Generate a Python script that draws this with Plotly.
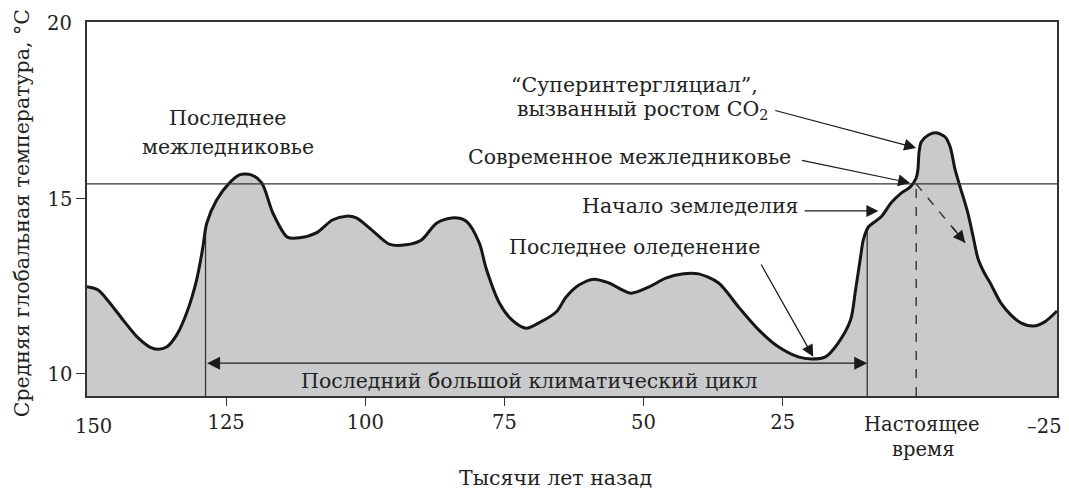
import numpy as np
import plotly.graph_objects as go

# ---------------- data ----------------
years = [150, 148.0, 145.9, 143.5, 141.0, 138.7, 137.3, 135.7, 133.9, 132.1, 130.3, 129.2,
         128.5, 126.7, 124.4, 122.6, 120.5, 118.6, 116.6, 114.0, 111.8, 108.8, 105.9, 103.4,
         101.6, 98.8, 95.7, 92.7, 89.9, 87.2, 84.4, 81.9, 79.5, 78.3, 75.9, 73.6, 71.1, 68.8,
         65.7, 63.9, 61.6, 58.9, 56.2, 52.3, 49.0, 46.0, 43.1, 40.1, 36.5, 32.9, 29.3, 25.7,
         22.2, 19.8, 17.3, 15.0, 12.8, 11.9, 11.0, 10.5, 9.6, 7.3, 5.5, 3.7, 2.1, 1.0, 0.7,
         0.5, 0.1, -1.2, -2.6, -4.2, -5.1, -6.0, -6.9, -8.2, -9.2, -10.1, -11.2, -12.3, -14.2,
         -16.0, -17.8, -20.0, -22.1, -24.3]
temps = [12.49, 12.40, 12.03, 11.54, 11.06, 10.77, 10.71, 10.77, 11.11, 11.74, 12.69, 13.60,
         14.30, 14.97, 15.46, 15.69, 15.69, 15.46, 14.60, 13.91, 13.89, 14.03, 14.40, 14.51,
         14.46, 14.11, 13.71, 13.69, 13.83, 14.31, 14.46, 14.37, 13.74, 13.03, 12.03, 11.54,
         11.31, 11.46, 11.77, 12.20, 12.54, 12.71, 12.60, 12.31, 12.49, 12.74, 12.86, 12.86,
         12.60, 11.91, 11.26, 10.77, 10.49, 10.43, 10.49, 10.89, 11.54, 12.40, 13.34, 13.83,
         14.20, 14.49, 14.89, 15.17, 15.34, 15.60, 15.83, 16.31, 16.63, 16.83, 16.89, 16.77,
         16.49, 15.83, 15.34, 14.65, 13.95, 13.30, 12.90, 12.60, 12.03, 11.69, 11.46, 11.37,
         11.49, 11.80]

x_tick_vals = [125, 100, 75, 50, 25]
x_tick_text = ["125", "100", "75", "50", "25"]
y_tick_vals = [15, 10]
y_tick_text = ["15", "10"]

cycle_start = 128.7        # start of the last big climatic cycle
holocene_start = 9.8       # start of present interglacial
present_mark = 1.0         # "today" marker (dashed line)
reference_temp = 15.43     # horizontal reference level
cycle_arrow_temp = 10.31   # level of the double arrow
dashed_tip = (-7.8, 13.75)  # end of the dashed projection arrow

X_RANGE = [150, -24.3]
Y_RANGE = [9.371, 20.057]
FONT = "DejaVu Serif"
TXT = "#222222"
LINE = "#333333"
FILL = "#c9cacc"
FS = 20.5
TICK_FS = 19.5

y_bottom = Y_RANGE[0]

fig = go.Figure()

# filled area
fig.add_trace(go.Scatter(x=years, y=temps, mode="lines", fill="tozeroy",
                         fillcolor=FILL, line=dict(color="rgba(0,0,0,0)", width=0,
                                                   shape="spline", smoothing=0.8),
                         hoverinfo="skip", showlegend=False))

# thin vertical markers from bottom to curve
for xv in (cycle_start, holocene_start):
    yv = float(np.interp(-xv, -np.array(years), np.array(temps)))
    fig.add_trace(go.Scatter(x=[xv, xv], y=[y_bottom, yv], mode="lines",
                             line=dict(color=LINE, width=1.3), hoverinfo="skip",
                             showlegend=False))

# dashed vertical at present
fig.add_trace(go.Scatter(x=[present_mark, present_mark], y=[y_bottom, reference_temp],
                         mode="lines", line=dict(color=LINE, width=1.4, dash="dash"),
                         hoverinfo="skip", showlegend=False))
# dashed diagonal projection
fig.add_trace(go.Scatter(x=[present_mark, dashed_tip[0]], y=[reference_temp, dashed_tip[1]],
                         mode="lines", line=dict(color=LINE, width=1.4, dash="dash"),
                         hoverinfo="skip", showlegend=False))

# main curve line
fig.add_trace(go.Scatter(x=years, y=temps, mode="lines",
                         line=dict(color="#161616", width=3, shape="spline", smoothing=0.8),
                         hoverinfo="skip", showlegend=False))

fig.add_shape(type="line", xref="paper", x0=0, x1=1, yref="y", y0=reference_temp,
              y1=reference_temp, line=dict(color=LINE, width=1.3), layer="above")

ann = []


def text(x, y, s, xref="x", yref="y", size=FS, **kw):
    d = dict(x=x, y=y, xref=xref, yref=yref, text=s, showarrow=False,
             xanchor="center", yanchor="middle",
             font=dict(family=FONT, size=size, color=TXT))
    d.update(kw)
    ann.append(d)


def arrow(x, y, ax, ay, **kw):
    d = dict(x=x, y=y, ax=ax, ay=ay, xref="x", yref="y", axref="x", ayref="y",
             text="", showarrow=True, arrowhead=2, arrowsize=2.0, arrowwidth=1.2,
             arrowcolor="#1a1a1a")
    d.update(kw)
    ann.append(d)


text(124.7, 17.31, "Последнее")
text(124.7, 16.49, "межледниковье")
text(51.6, 18.26, "“Суперинтергляциал”,")
text(50.1, 17.54, "вызванный ростом CO<sub>2</sub>")
text(52.5, 16.20, "Современное межледниковье")
text(41.5, 14.80, "Начало земледелия")
text(51.6, 13.63, "Последнее оледенение")
text(70.4, 9.80, "Последний большой климатический цикл")

arrow(1.0, 16.46, 26.6, 17.54)
arrow(2.1, 15.46, 21.8, 16.11)
arrow(7.8, 14.66, 21.3, 14.66)
arrow(19.5, 10.49, 29.0, 13.17)
arrow(holocene_start, cycle_arrow_temp, cycle_start, cycle_arrow_temp,
      arrowside="end+start", startarrowhead=2, startarrowsize=2.0, arrowwidth=1.3)
# head of the dashed arrow
ann.append(dict(x=dashed_tip[0], y=dashed_tip[1], xref="x", yref="y", ax=-14, ay=-17,
                text="", showarrow=True, arrowhead=2, arrowsize=2.0, arrowwidth=1.2,
                arrowcolor="#1a1a1a"))

# edge tick labels and titles
text(148.9, -0.0828, "150", yref="paper", size=TICK_FS)
text(0.0, -0.0775, "Настоящее", yref="paper", size=TICK_FS)
text(-0.3, -0.144, "время", yref="paper", size=TICK_FS)
text(-22.0, -0.0828, "–25", yref="paper", size=TICK_FS)
text(0, 20, "20", xref="paper", xanchor="right", xshift=-13, size=TICK_FS)
text(0.4825, -0.219, "Тысячи лет назад", xref="paper", yref="paper")
text(-0.0669, 0.489, "Средняя глобальная температура, °С", xref="paper", yref="paper",
     textangle=-90)

# page body has an 8px margin; size the figure so the plot area lands where intended
fig.update_layout(
    width=1061, height=483,
    margin=dict(l=79, r=10, t=14, b=95),
    paper_bgcolor="white", plot_bgcolor="white",
    annotations=ann,
    font=dict(family=FONT, size=FS, color=TXT),
    xaxis=dict(range=X_RANGE, tickvals=x_tick_vals, ticktext=x_tick_text,
               ticks="outside", ticklen=8, tickwidth=1.3, tickcolor=LINE,
               showline=True, mirror=True, linecolor=LINE, linewidth=1.5,
               showgrid=False, zeroline=False,
               tickfont=dict(family=FONT, size=TICK_FS, color=TXT)),
    yaxis=dict(range=Y_RANGE, tickvals=y_tick_vals, ticktext=y_tick_text,
               ticks="outside", ticklen=9, tickwidth=1.3, tickcolor=LINE,
               showline=True, mirror=True, linecolor=LINE, linewidth=1.5,
               showgrid=False, zeroline=False,
               tickfont=dict(family=FONT, size=TICK_FS, color=TXT)),
)

fig.write_html("out.html")
